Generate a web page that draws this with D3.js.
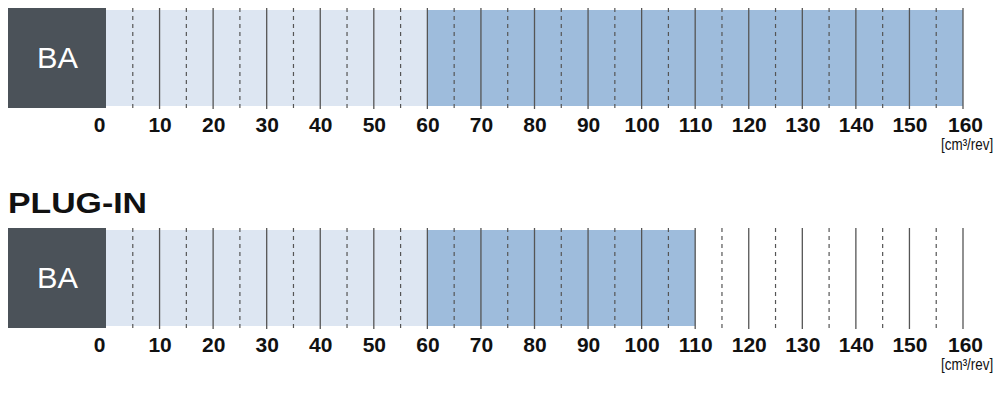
<!DOCTYPE html>
<html>
<head>
<meta charset="utf-8">
<script src="https://cdn.jsdelivr.net/npm/d3@7"></script>
<style>
html,body{margin:0;padding:0;background:#fff;}
svg{display:block;}
</style>
</head>
<body>
<svg id="chart" width="1000" height="416"></svg>
<script>
// Data
const panelTitles = ["", "PLUG-IN"];
const panelLabels = ["BA", "BA"];
const lightEnd = [60, 60];        // light band range end (cm³/rev)
const rangeEnd = [160, 110];      // dark band range end (cm³/rev)
const majorTicks = d3.range(0, 161, 10);
const minorTicks = d3.range(5, 160, 10);
const unitLabel = "[cm³/rev]";

const svg = d3.select("#chart");
const x = d3.scaleLinear().domain([0, 160]).range([106, 963]);
const panelTop = [8, 228];
const boxH = 100;

panelTop.forEach((top, i) => {
  const g = svg.append("g");
  // bands
  g.append("rect").attr("x", x(0)).attr("y", top + 2)
    .attr("width", x(lightEnd[i]) - x(0)).attr("height", boxH - 4)
    .attr("fill", "#dde6f2");
  g.append("rect").attr("x", x(lightEnd[i])).attr("y", top + 2)
    .attr("width", x(rangeEnd[i]) - x(lightEnd[i])).attr("height", boxH - 4)
    .attr("fill", "#9ebcdc");
  // minor dashed lines
  g.selectAll("line.minor").data(minorTicks).join("line")
    .attr("class", "minor")
    .attr("x1", d => x(d)).attr("x2", d => x(d))
    .attr("y1", top).attr("y2", top + boxH + 1)
    .attr("stroke", "#555").attr("stroke-width", 1.2)
    .attr("stroke-dasharray", "4,4");
  // major solid lines
  g.selectAll("line.major").data(majorTicks.filter(d => d > 0)).join("line")
    .attr("class", "major")
    .attr("x1", d => x(d)).attr("x2", d => x(d))
    .attr("y1", top).attr("y2", top + boxH + 1)
    .attr("stroke", "#555").attr("stroke-width", 1.3);
  // dark label box
  g.append("rect").attr("x", 8).attr("y", top)
    .attr("width", x(0) - 8).attr("height", boxH)
    .attr("fill", "#4b5259");
  g.append("text").attr("x", (8 + x(0)) / 2 + 0.5).attr("y", top + 60)
    .attr("text-anchor", "middle")
    .attr("font-family", "Liberation Sans, Arial, sans-serif")
    .attr("font-size", 29).attr("fill", "#fff")
    .attr("textLength", 41).attr("lengthAdjust", "spacingAndGlyphs")
    .text(panelLabels[i]);
  // axis tick labels
  const axis = d3.axisBottom(x).tickValues(majorTicks).tickSize(0).tickPadding(0)
    .tickFormat(d3.format("d"));
  const ag = g.append("g").attr("transform", `translate(0,${top + 124})`).call(axis);
  ag.select(".domain").remove();
  ag.selectAll("text")
    .attr("y", 0).attr("dy", 0)
    .attr("font-family", "Liberation Sans, Arial, sans-serif")
    .attr("font-weight", "bold").attr("font-size", 21).attr("fill", "#111")
    .attr("dx", d => d === 0 ? -7 : (d === 160 ? 2 : 0));
  // unit (condensed to match the reference width)
  g.append("text")
    .attr("transform", `translate(941,${top + 142}) scale(0.84,1)`)
    .attr("font-family", "Liberation Sans, Arial, sans-serif")
    .attr("font-size", 16).attr("fill", "#111")
    .text(unitLabel);
  // title
  if (panelTitles[i]) {
    svg.append("text").attr("x", 8).attr("y", top - 15)
      .attr("font-family", "Liberation Sans, Arial, sans-serif")
      .attr("font-weight", "bold").attr("font-size", 29).attr("fill", "#111")
      .attr("textLength", 139).attr("lengthAdjust", "spacingAndGlyphs")
      .text(panelTitles[i]);
  }
});
</script>
</body>
</html>
